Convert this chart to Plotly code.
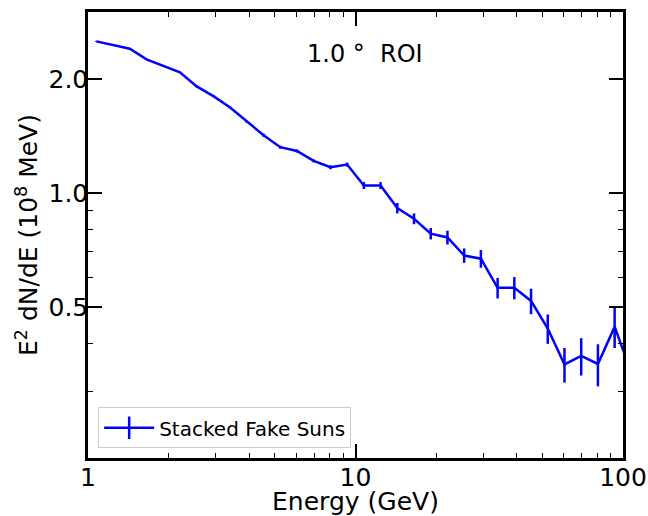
import plotly.graph_objects as go

energy_gev = [1.0746, 1.2409, 1.4330, 1.6548, 1.9110, 2.2067, 2.5483, 2.9427,
              3.3982, 3.9242, 4.5316, 5.2330, 6.0430, 6.9783, 8.0584, 9.3057,
              10.746, 12.409, 14.330, 16.548, 19.110, 22.067, 25.483, 29.427,
              33.982, 39.242, 45.316, 52.330, 60.430, 69.783, 80.584, 93.057,
              107.46]
e2dnde = [2.51, 2.46, 2.40, 2.25, 2.16, 2.08, 1.91, 1.80,
          1.68, 1.54, 1.42, 1.32, 1.29, 1.215, 1.169, 1.188,
          1.046, 1.046, 0.912, 0.855, 0.781, 0.763, 0.684, 0.671,
          0.562, 0.562, 0.519, 0.439, 0.353, 0.372, 0.354, 0.444,
          0.335]
e2dnde_err = [0.008, 0.007, 0.007, 0.007, 0.007, 0.006, 0.011, 0.011,
              0.010, 0.009, 0.013, 0.012, 0.012, 0.011, 0.014, 0.014,
              0.022, 0.022, 0.029, 0.028, 0.027, 0.032, 0.030, 0.036,
              0.035, 0.038, 0.040, 0.039, 0.037, 0.042, 0.045, 0.054,
              0.050]

x_major = [1, 10, 100]
x_major_text = ["1", "10", "100"]
x_minor = [2, 3, 4, 5, 6, 7, 8, 9, 20, 30, 40, 50, 60, 70, 80, 90]
y_major = [0.5, 1.0, 2.0]
y_major_text = ["0.5", "1.0", "2.0"]
y_minor = [0.3, 0.4, 0.6, 0.7, 0.8, 0.9]

series_name = "Stacked Fake Suns"
roi_label = "1.0\u00a0°\u00a0\u00a0ROI"

BLUE = "#0000ff"
FONT = "DejaVu Sans"

fig = go.Figure()
fig.add_trace(go.Scatter(
    x=energy_gev, y=e2dnde, mode="lines",
    line=dict(color=BLUE, width=2.5),
    error_y=dict(type="data", array=e2dnde_err, color=BLUE, thickness=2.5, width=0),
    showlegend=False,
))
# legend entry mimicking a line with an error bar
fig.add_trace(go.Scatter(
    x=[None], y=[None], mode="lines+markers", name=series_name,
    line=dict(color=BLUE, width=2.5),
    marker=dict(symbol="line-ns", size=18, color=BLUE,
                line=dict(color=BLUE, width=2.5)),
    showlegend=True,
))

axis_common = dict(
    showline=True, linecolor="black", linewidth=2.5, mirror="allticks",
    ticks="inside", ticklen=14, tickwidth=1.5, tickcolor="black",
    showgrid=False, zeroline=False,
    tickfont=dict(family=FONT, size=25, color="black"),
)

fig.update_xaxes(
    type="log", range=[0, 2],
    tickmode="array", tickvals=x_major, ticktext=x_major_text,
    ticklabelstandoff=-5,
    minor=dict(tickmode="array", tickvals=x_minor, ticks="inside",
               ticklen=5, tickwidth=1.2, tickcolor="black", showgrid=False),
    title=dict(text="Energy (GeV)", font=dict(family=FONT, size=25, color="black"),
               standoff=8),
    **axis_common,
)
fig.update_yaxes(
    type="log", range=[-0.69897, 0.47712],
    tickmode="array", tickvals=y_major, ticktext=y_major_text,
    ticklabelstandoff=-8,
    minor=dict(tickmode="array", tickvals=y_minor, ticks="inside",
               ticklen=5, tickwidth=1.2, tickcolor="black", showgrid=False),
    title=dict(text="E<sup>2</sup> dN/dE (10<sup>8</sup> MeV)",
               font=dict(family=FONT, size=25, color="black"), standoff=4),
    **axis_common,
)

fig.add_annotation(
    x=0.518, y=0.906, xref="paper", yref="paper", text=roi_label,
    showarrow=False, font=dict(family=FONT, size=24, color="black"),
    xanchor="center", yanchor="middle",
)

fig.update_layout(
    width=648, height=516,
    margin=dict(l=88, r=25, t=12, b=58, autoexpand=False),
    paper_bgcolor="white", plot_bgcolor="white",
    font=dict(family=FONT, color="black"),
    legend=dict(x=0.019, y=0.022, xanchor="left", yanchor="bottom",
                bgcolor="rgba(255,255,255,0.8)", bordercolor="#cccccc", borderwidth=1,
                font=dict(family=FONT, size=20, color="black"),
                itemwidth=50),
)

fig.write_html("out.html",
               config={"displayModeBar": False},
               post_script="document.body.style.margin='0';document.body.style.overflow='hidden';")
